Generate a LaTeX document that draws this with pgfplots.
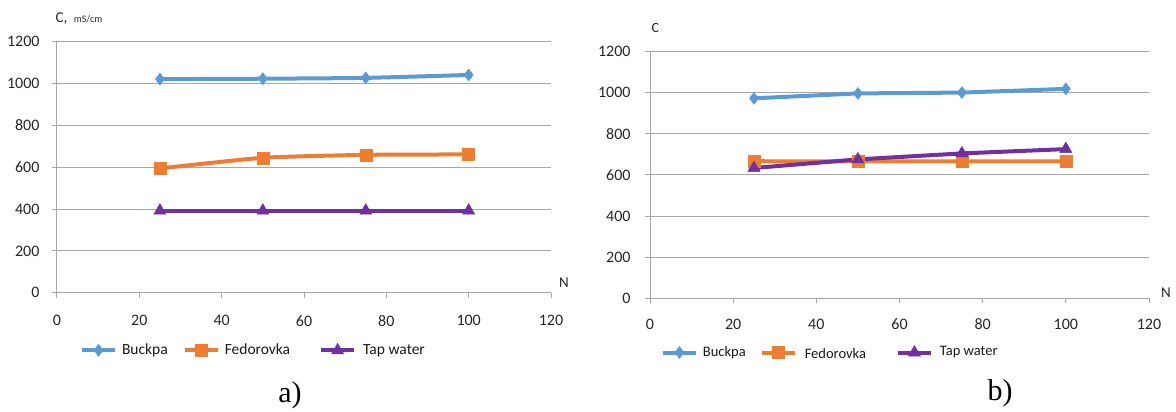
\documentclass[border=0pt]{standalone}
\usepackage{fontspec}
\setmainfont{Carlito}
\newfontfamily\serif{Liberation Serif}
\usepackage{pgfplots}
\pgfplotsset{compat=1.18}
\definecolor{cblue}{HTML}{5B9BD5}
\definecolor{corange}{HTML}{ED7D31}
\definecolor{cpurple}{HTML}{7030A0}
\definecolor{cgrid}{HTML}{A6A6A6}
\pgfplotsset{
  myaxis/.style={
    scale only axis,
    xmin=0, xmax=120, ymin=0, ymax=1200,
    xtick={0,20,...,120}, ytick={0,200,...,1200},
    axis x line*=bottom, axis y line*=left,
    axis line style={-, cgrid, line width=1pt},
    ymajorgrids, grid style={cgrid, line width=1pt},
    tick align=outside, major tick length=5pt,
    tick style={cgrid, line width=1pt},
    /pgf/number format/assume math mode=true,
    /pgf/number format/1000 sep={},
    ticklabel style={font=\fontsize{16}{18}\selectfont, text=black!85},
    clip=false,
    legend columns=3,
    legend style={draw=none, fill=none, inner sep=0pt, outer sep=0pt, text=black!90,
      nodes={inner sep=0pt},
      /tikz/every odd column/.append style={column sep=5pt}},
    legend image code/.code={\draw[mark repeat=2,mark phase=2] plot coordinates {(0pt,0pt) (16.5pt,0pt) (33pt,0pt)};},
    legend cell align=left,
  },
  sB/.style={cblue, line width=4pt, mark=diamond*, mark size=6pt, mark options={solid, line width=0.5pt}},
  sF/.style={corange, line width=4pt, mark=square*, mark size=6pt, mark options={solid, line width=0.5pt}},
  sT/.style={cpurple, line width=4pt, mark=triangle*, mark size=7pt, mark options={solid, line width=0.5pt}},
}
\begin{document}
\begin{tikzpicture}[x=1pt,y=1pt]
\path[use as bounding box] (0,0) rectangle (1176,412);
\begin{axis}[myaxis, width=494pt, height=251pt, at={(57pt,119.3pt)}, anchor=south west,
  xticklabel style={yshift=-14pt}, yticklabel style={xshift=-9pt},
  legend style={at={(rel axis cs:0.0466,-0.228)}, anchor=west, font=\fontsize{15.5}{17}\selectfont,
    /tikz/every even column/.append style={column sep=15pt}}]
\addplot[sB, smooth, tension=0.3] coordinates {(25,1021) (50,1023) (75,1027) (100,1041)};
\addlegendentry{Buckpa}
\addplot[sF, smooth, tension=0.3] coordinates {(25,594) (50,645) (75,659) (100,661)};
\addlegendentry{Fedorovka\kern14pt}
\addplot[sT] coordinates {(25,392) (50,392) (75,392) (100,392)};
\addlegendentry{\kern2pt Tap water}
\node[anchor=west, inner sep=0pt, font=\fontsize{15}{17}\selectfont, text=black!85] at (rel axis cs:-0.003,1.094) {C,\,{\fontsize{10}{11}\selectfont\, mS/cm}};
\node[font=\fontsize{15}{17}\selectfont, text=black!85] at (rel axis cs:1.026,0.039) {N};
\end{axis}
\begin{axis}[myaxis, width=499pt, height=246.6pt, at={(650pt,113.7pt)}, anchor=south west,
  xticklabel style={yshift=-12pt}, yticklabel style={xshift=-11pt},
  legend style={at={(rel axis cs:0.022,-0.218)}, anchor=west, font=\fontsize{14.5}{16}\selectfont,
    /tikz/every even column/.append style={column sep=14pt}}]
\addplot[sB] coordinates {(25,973) (50,997) (75,1001) (100,1019)};
\addlegendentry{Buckpa}
\addplot[sF] coordinates {(25,667) (50,666) (75,666) (100,666)};
\addlegendentry{\kern3pt\raisebox{-3pt}{Fedorovka}\kern16pt}
\addplot[sT] coordinates {(25,634) (50,676) (75,705) (100,726)};
\addlegendentry{\kern2pt\raisebox{1pt}{Tap water}}
\node[anchor=west, inner sep=0pt, font=\fontsize{14}{16}\selectfont, text=black!85] at (rel axis cs:0.003,1.096) {C};
\node[font=\fontsize{15}{17}\selectfont, text=black!85] at (rel axis cs:1.034,0.023) {N};
\end{axis}
\node[font=\serif\fontsize{30}{32}\selectfont] at (290,17) {a)};
\node[font=\serif\fontsize{30}{32}\selectfont] at (1000,19) {b)};
\end{tikzpicture}
\end{document}
